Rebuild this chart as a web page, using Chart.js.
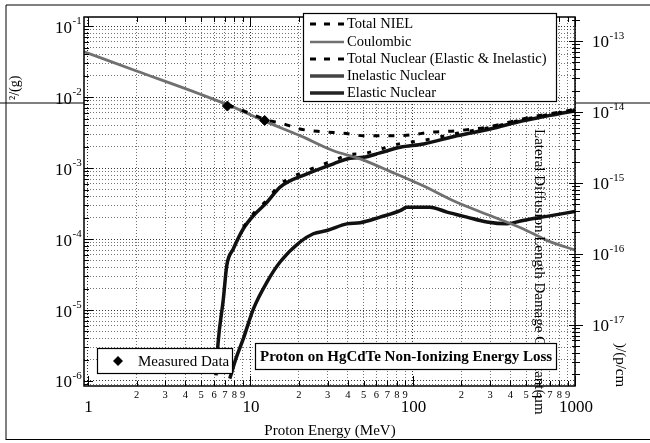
<!DOCTYPE html>
<html>
<head>
<meta charset="utf-8">
<script src="https://cdn.jsdelivr.net/npm/chart.js@4.4.1/dist/chart.umd.min.js"></script>
<style>
	html, body { margin: 0; padding: 0; background: #fff; }
	canvas { display: block; }
</style>
</head>
<body>
<canvas id="canvasNiel" width="650" height="443"></canvas>
<script>
/***********************************************************************************************
 * data (proton energy in MeV, NIEL in MeV cm2/g)
 ***********************************************************************************************/
var coulombE = [0.95, 2, 4.9, 7.5, 12.7, 20.3, 32.6, 47.6, 72.8, 117, 187, 300, 478, 671, 1000];
var coulombV = [0.0437, 0.0234, 0.0111, 7.6e-3, 4.45e-3, 2.87e-3, 1.76e-3, 1.35e-3, 9.0e-4, 5.6e-4, 3.3e-4, 2.15e-4, 1.4e-4, 9.6e-5, 7.0e-5];

var inelasticE = [6.17, 6.35, 6.85, 7.19, 7.89, 9.09, 10.5, 12.7, 15.3, 22.4, 32.6, 41.3, 49.8, 63.1, 83.9, 117, 187, 300, 478, 934, 1000];
var inelasticV = [1.2e-6, 3.4e-6, 1.45e-5, 4.26e-5, 7.3e-5, 1.4e-4, 2.15e-4, 3.3e-4, 5.4e-4, 8.3e-4, 1.15e-3, 1.38e-3, 1.42e-3, 1.64e-3, 1.97e-3, 2.19e-3, 2.86e-3, 3.56e-3, 4.65e-3, 6.24e-3, 6.4e-3];

var elasticE = [7.5, 8.2, 9.09, 10.5, 12.7, 15.3, 20.3, 24.5, 29.7, 39.4, 47.6, 63.1, 83.9, 92, 128, 163, 216, 287, 381, 478, 671, 1000];
var elasticV = [1.08e-6, 2.1e-6, 3.96e-6, 1.05e-5, 2.48e-5, 4.75e-5, 9.1e-5, 1.19e-4, 1.32e-4, 1.64e-4, 1.7e-4, 2.04e-4, 2.52e-4, 2.8e-4, 2.82e-4, 2.4e-4, 2.04e-4, 1.74e-4, 1.64e-4, 1.83e-4, 2.09e-4, 2.45e-4];

var totalNuclearE = [9.09, 10.5, 12.7, 15.3, 22.4, 32.6, 41.3, 49.8, 63.1, 83.9, 117, 187, 300, 478, 934, 1000];
var totalNuclearV = [1.48e-4, 2.3e-4, 3.55e-4, 5.9e-4, 9.2e-4, 1.28e-3, 1.55e-3, 1.6e-3, 1.85e-3, 2.22e-3, 2.47e-3, 3.1e-3, 3.75e-3, 4.83e-3, 6.45e-3, 6.6e-3];

var totalNielE = [7.3, 10, 12.7, 15.3, 20.3, 28.3, 37.6, 49.8, 69.5, 96.7, 128, 187, 236, 300, 478, 934, 1000];
var totalNielV = [7.8e-3, 5.9e-3, 4.75e-3, 4.35e-3, 3.56e-3, 3.26e-3, 3.1e-3, 2.87e-3, 2.87e-3, 2.93e-3, 3.2e-3, 3.37e-3, 3.56e-3, 3.85e-3, 4.95e-3, 6.55e-3, 6.7e-3];

var measuredE = [7.25, 12.3];
var measuredV = [7.5e-3, 4.7e-3];

var seriesNames = ['Total NIEL', 'Coulombic', 'Total Nuclear (Elastic & Inelastic)', 'Inelastic Nuclear', 'Elastic Nuclear'];

// tick labels
var decadeSteps = [1, 2, 3, 4, 5, 6, 7, 8, 9];
var xMajorLabels = ['1', '10', '100', '1000'];
var xMinorLabels = ['2', '3', '4', '5', '6', '7', '8', '9'];
var yLeftExponents = [-1, -2, -3, -4, -5, -6];
var yRightExponents = [-13, -14, -15, -16, -17];

var SERIF = '"Liberation Serif", "Times New Roman", serif';

function toPoints(xs, ys) {
	var pts = [];
	for (var i = 0; i < xs.length; i++) pts.push({ x: xs[i], y: ys[i] });
	return pts;
}

function logTicks(min, max) {
	var list = [];
	var e0 = Math.floor(Math.log10(min));
	var e1 = Math.ceil(Math.log10(max));
	for (var e = e0; e <= e1; e++) {
		for (var i = 0; i < decadeSteps.length; i++) {
			var v = parseFloat((decadeSteps[i] * Math.pow(10, e)).toPrecision(6));
			if (v >= min * 0.9999 && v <= max * 1.0001) list.push({ value: v, major: decadeSteps[i] === 1 });
		}
	}
	return list;
}

function gridColor(c) {
	return c.tick && c.tick.major ? 'rgba(0,0,0,0.8)' : 'rgba(0,0,0,0.55)';
}

/***********************************************************************************************
 * drawing of frame, labels, legends
 ***********************************************************************************************/
function drawSup(ctx, base, exp, x, y, align) {
	ctx.textBaseline = 'middle';
	ctx.font = '17px ' + SERIF;
	var w = ctx.measureText(base).width;
	var left = align === 'right' ? x - w : x;
	ctx.textAlign = 'left';
	ctx.fillText(base, left, y + 2);
	ctx.font = '11px ' + SERIF;
	ctx.fillText(String(exp), left + w + 0.5, y - 5);
}

var nielDecor = {
	id: 'nielDecor',
	afterDraw: function(chart) {
		var ctx = chart.ctx;
		var a = chart.chartArea;
		var xs = chart.scales.x, ys = chart.scales.y, y2 = chart.scales.y2;
		ctx.save();
		ctx.fillStyle = '#000';
		ctx.strokeStyle = '#000';

		// tick marks
		ctx.lineWidth = 1;
		ctx.beginPath();
		xs.ticks.forEach(function(t) {
			var px = Math.round(xs.getPixelForValue(t.value)) + 0.5;
			var len = t.major ? 10 : 5;
			ctx.moveTo(px, a.bottom); ctx.lineTo(px, a.bottom - len);
			ctx.moveTo(px, a.top); ctx.lineTo(px, a.top + len);
		});
		ys.ticks.forEach(function(t) {
			var py = Math.round(ys.getPixelForValue(t.value)) + 0.5;
			var len = t.major ? 9 : 5;
			ctx.moveTo(a.left, py); ctx.lineTo(a.left + len, py);
		});
		y2.ticks.forEach(function(t) {
			var py = Math.round(y2.getPixelForValue(t.value)) + 0.5;
			if (t.major) { ctx.moveTo(a.right - 6, py); ctx.lineTo(a.right + 8, py); }
			else { ctx.moveTo(a.right - 3, py); ctx.lineTo(a.right + 5, py); }
		});
		ctx.stroke();

		// plot frame
		ctx.lineWidth = 1.5;
		ctx.strokeRect(a.left, a.top, a.right - a.left, a.bottom - a.top);

		// x labels
		ctx.textAlign = 'center';
		ctx.textBaseline = 'middle';
		xMajorLabels.forEach(function(s) {
			ctx.font = '17px ' + SERIF;
			ctx.fillText(s, xs.getPixelForValue(parseFloat(s)) + 1, 408);
		});
		for (var d = 0; d < 3; d++) {
			xMinorLabels.forEach(function(s) {
				ctx.font = '10.5px ' + SERIF;
				ctx.fillText(s, xs.getPixelForValue(parseFloat(s) * Math.pow(10, d)), 395);
			});
		}

		// y labels
		yLeftExponents.forEach(function(e) {
			drawSup(ctx, '10', e, 72, ys.getPixelForValue(Math.pow(10, e)), 'right');
		});
		yRightExponents.forEach(function(e) {
			drawSup(ctx, '10', e, 592, y2.getPixelForValue(Math.pow(10, e)), 'left');
		});

		// axis titles
		ctx.textAlign = 'center';
		ctx.font = '15px ' + SERIF;
		ctx.fillText('Proton Energy (MeV)', 330, 431);

		ctx.save();
		ctx.translate(15, 100);
		ctx.rotate(-Math.PI / 2);
		ctx.textAlign = 'left';
		ctx.font = '14px ' + SERIF;
		ctx.fillText('\u00b2/(g)', 0, 0);
		ctx.restore();

		ctx.save();
		ctx.translate(539, 129);
		ctx.rotate(Math.PI / 2);
		ctx.textAlign = 'left';
		ctx.font = '15px ' + SERIF;
		ctx.fillText('Lateral Diffusion Length Damage Constant(\u00b5m', 0, 0);
		ctx.restore();

		ctx.save();
		ctx.translate(620, 343);
		ctx.rotate(Math.PI / 2);
		ctx.textAlign = 'left';
		ctx.font = '15px ' + SERIF;
		ctx.fillText(')/(p/cm', 0, 0);
		ctx.restore();

		// legend box
		ctx.fillStyle = '#fff';
		ctx.fillRect(303, 13, 254, 89);
		ctx.lineWidth = 1.2;
		ctx.strokeRect(303.5, 13.5, 253, 88);
		var rows = [24, 42, 59, 76, 93];
		var samples = [
			{ color: '#000', width: 3, dash: [6, 8] },
			{ color: '#707070', width: 2.5, dash: [] },
			{ color: '#000', width: 3, dash: [6, 8] },
			{ color: '#444', width: 3.5, dash: [] },
			{ color: '#222', width: 3.5, dash: [] }
		];
		ctx.font = '14.5px ' + SERIF;
		ctx.textAlign = 'left';
		for (var i = 0; i < rows.length; i++) {
			ctx.beginPath();
			ctx.strokeStyle = samples[i].color;
			ctx.lineWidth = samples[i].width;
			ctx.setLineDash(samples[i].dash);
			ctx.moveTo(310, rows[i]); ctx.lineTo(344, rows[i]);
			ctx.stroke();
			ctx.setLineDash([]);
			ctx.fillStyle = '#000';
			ctx.fillText(seriesNames[i], 347, rows[i]);
		}

		// measured data box
		ctx.strokeStyle = '#000';
		ctx.fillStyle = '#fff';
		ctx.fillRect(97, 348, 136, 26);
		ctx.lineWidth = 1.2;
		ctx.strokeRect(97.5, 348.5, 135, 25);
		ctx.fillStyle = '#000';
		ctx.beginPath();
		ctx.moveTo(118, 356); ctx.lineTo(123, 361); ctx.lineTo(118, 366); ctx.lineTo(113, 361);
		ctx.closePath();
		ctx.fill();
		ctx.font = '15px ' + SERIF;
		ctx.fillText('Measured Data', 138, 362);

		// title box
		ctx.fillStyle = '#fff';
		ctx.fillRect(255, 343, 302, 27);
		ctx.strokeRect(255.5, 343.5, 301, 26);
		ctx.fillStyle = '#000';
		ctx.font = 'bold 15px ' + SERIF;
		ctx.fillText('Proton on HgCdTe Non-Ionizing Energy Loss', 260, 357);

		// scan frame
		ctx.lineWidth = 1;
		ctx.beginPath();
		ctx.moveTo(6, 5); ctx.lineTo(650, 5);
		ctx.moveTo(6, 5); ctx.lineTo(6, 440);
		ctx.moveTo(6, 439.5); ctx.lineTo(650, 439.5);
		ctx.moveTo(0, 103); ctx.lineTo(a.left, 103);
		ctx.moveTo(a.right, 103); ctx.lineTo(650, 103);
		ctx.stroke();
		ctx.restore();
	}
};

/***********************************************************************************************
 * chart
 ***********************************************************************************************/
var nielChart = new Chart(document.getElementById('canvasNiel'), {
	type: 'line',
	data: {
		datasets: [{
			label: 'Measured Data',
			data: toPoints(measuredE, measuredV),
			showLine: false,
			pointStyle: 'rectRot',
			pointRadius: 5,
			backgroundColor: '#000',
			borderColor: '#000',
			order: 0
		}, {
			label: seriesNames[0],
			data: toPoints(totalNielE, totalNielV),
			borderColor: '#000',
			borderWidth: 3,
			borderDash: [6, 9],
			order: 1
		}, {
			label: seriesNames[2],
			data: toPoints(totalNuclearE, totalNuclearV),
			borderColor: '#000',
			borderWidth: 3,
			borderDash: [4, 11],
			order: 2
		}, {
			label: seriesNames[1],
			data: toPoints(coulombE, coulombV),
			borderColor: '#707070',
			borderWidth: 2.8,
			order: 3
		}, {
			label: seriesNames[3],
			data: toPoints(inelasticE, inelasticV),
			borderColor: '#111',
			borderWidth: 3.5,
			order: 4
		}, {
			label: seriesNames[4],
			data: toPoints(elasticE, elasticV),
			borderColor: '#111',
			borderWidth: 3.5,
			order: 5
		}]
	},
	options: {
		responsive: false,
		animation: false,
		devicePixelRatio: 1,
		layout: { padding: { top: 17, left: 0, right: 0, bottom: 0 } },
		elements: {
			point: { radius: 0 },
			line: { cubicInterpolationMode: 'monotone', borderCapStyle: 'butt' }
		},
		plugins: {
			legend: { display: false },
			tooltip: { enabled: false }
		},
		scales: {
			x: {
				type: 'logarithmic',
				min: 0.95,
				max: 1000,
				bounds: 'data',
				afterBuildTicks: function(s) { s.ticks = logTicks(s.min, s.max); },
				afterFit: function(s) { s.height = 57; },
				ticks: { display: false },
				grid: { color: gridColor, lineWidth: 1, drawTicks: false },
				border: { display: false, dash: [1, 2] }
			},
			y: {
				type: 'logarithmic',
				position: 'left',
				min: 8.5e-7,
				max: 0.135,
				bounds: 'data',
				afterBuildTicks: function(s) { s.ticks = logTicks(s.min, s.max); },
				afterFit: function(s) { s.width = 84; },
				ticks: { display: false },
				grid: { color: gridColor, lineWidth: 1, drawTicks: false },
				border: { display: false, dash: [1, 2] }
			},
			y2: {
				type: 'logarithmic',
				position: 'right',
				min: 1.37e-18,
				max: 2.18e-13,
				bounds: 'data',
				afterBuildTicks: function(s) { s.ticks = logTicks(s.min, s.max); },
				afterFit: function(s) { s.width = 75; },
				ticks: { display: false },
				grid: { display: false },
				border: { display: false }
			}
		}
	},
	plugins: [nielDecor]
});
</script>
</body>
</html>
